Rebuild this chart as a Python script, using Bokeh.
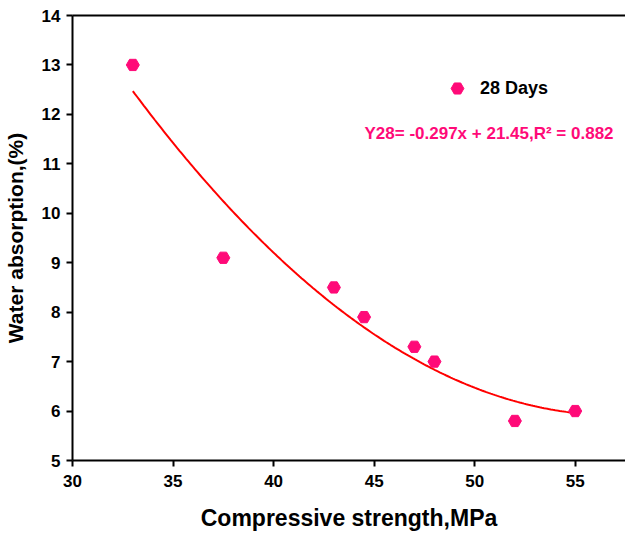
import numpy as np
from bokeh.plotting import figure
from bokeh.models import LinearAxis, Range1d, Label, Legend, LegendItem, FixedTicker
from bokeh.embed import file_html
from bokeh.resources import INLINE

strength = [33, 37.5, 43, 44.5, 47, 48, 52, 55]
absorption = [13.0, 9.1, 8.5, 7.9, 7.3, 7.0, 5.8, 6.0]
x_ticks = [30, 35, 40, 45, 50, 55]
y_ticks = [5, 6, 7, 8, 9, 10, 11, 12, 13, 14]

coef = np.polyfit(strength, absorption, 2)
xf = np.linspace(min(strength), max(strength), 200)
yf = np.polyval(coef, xf)

FONT = "Liberation Sans"
PINK = "#ff0a78"

p = figure(width=625, height=534, output_backend="svg", toolbar_location=None,
           x_range=Range1d(30, 57.5), y_range=Range1d(5, 14),
           min_border_left=72, min_border_right=0, min_border_top=15, min_border_bottom=74)
p.outline_line_color = None
p.grid.grid_line_color = None
p.background_fill_color = "white"

p.line(xf, yf, line_color="#ff0000", line_width=2)
r = p.scatter(strength, absorption, marker="hex", size=13, fill_color=PINK, line_color=PINK)

for ax in (p.xaxis[0], p.yaxis[0]):
    ax.axis_line_width = 2
    ax.major_tick_line_width = 2
    ax.minor_tick_line_width = 2
    ax.major_tick_out = 6
    ax.major_tick_in = 0
    ax.minor_tick_out = 4
    ax.minor_tick_in = 0
    ax.major_label_text_font = FONT
    ax.major_label_text_font_style = "bold"
    ax.major_label_text_font_size = "17px"
    ax.major_label_text_color = "black"
    ax.axis_label_text_font = FONT
    ax.axis_label_text_font_style = "bold"
    ax.axis_label_text_color = "black"

p.xaxis.axis_label_text_font_size = "23px"
p.yaxis.axis_label_text_font_size = "21px"
p.xaxis.ticker = x_ticks
p.xaxis[0].ticker.num_minor_ticks = 2
p.yaxis.ticker = y_ticks
p.yaxis[0].ticker.num_minor_ticks = 2
p.xaxis.axis_label = "Compressive strength,MPa"
p.yaxis.axis_label = "Water absorption,(%)"
p.xaxis.axis_label_standoff = 15
p.yaxis.axis_label_standoff = 12
p.xaxis.major_label_standoff = 8
p.yaxis.major_label_standoff = 6

top = LinearAxis(ticker=FixedTicker(ticks=[]), major_tick_line_color=None,
                 minor_tick_line_color=None, axis_line_width=2)
p.add_layout(top, "above")

leg = Legend(items=[LegendItem(label="28 Days", renderers=[r])],
             location=(369, 356), background_fill_alpha=0, border_line_color=None,
             label_text_font=FONT, label_text_font_style="bold", label_text_font_size="18px",
             label_text_color="black",
             glyph_width=32, glyph_height=32, label_standoff=7, padding=0, margin=0)
p.add_layout(leg, "center")

p.add_layout(Label(x=292, y=318, x_units="screen", y_units="screen",
                   text="Y28= -0.297x + 21.45,R² = 0.882", text_color=PINK,
                   text_font=FONT, text_font_style="bold", text_font_size="17px"))

open("out.html", "w").write(file_html(p, INLINE))
